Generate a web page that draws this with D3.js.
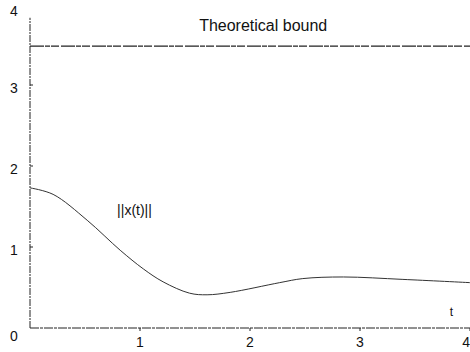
<!DOCTYPE html>
<html>
<head>
<meta charset="utf-8">
<script src="https://cdn.jsdelivr.net/npm/d3@7"></script>
<style>
  body { margin: 0; background: #fff; }
  svg { display: block; }
  text { font-family: "Liberation Sans", Arial, sans-serif; fill: #111; }
</style>
</head>
<body>
<figure id="chart" style="margin:0"></figure>
<script>
// values
const tValues = [0, 0.21, 0.52, 0.82, 1.03, 1.21, 1.45, 1.61, 1.82, 2.27, 2.48, 2.85, 3.39, 4.0];
const normValues = [1.73, 1.65, 1.33, 0.96, 0.73, 0.57, 0.43, 0.41, 0.44, 0.56, 0.61, 0.63, 0.60, 0.56];
const boundValue = 3.48;
const xTicks = [1, 2, 3, 4];
const yTicks = [0, 1, 2, 3, 4];

const width = 470, height = 352;
const margin = { top: 4, right: 0, bottom: 24, left: 30 };

const svg = d3.select('figure#chart')
  .append('svg')
  .attr('width', width)
  .attr('height', height);

const x = d3.scaleLinear().domain([0, 4]).range([margin.left, width - margin.right]);
const y = d3.scaleLinear().domain([0, 4]).range([height - margin.bottom, margin.top]);

// axes drawn as scanned-looking broken lines
svg.append('line')
  .attr('x1', x(0)).attr('x2', x(0))
  .attr('y1', y(0)).attr('y2', y(3.83))
  .attr('stroke', '#222').attr('stroke-width', 1)
  .attr('stroke-dasharray', '7,1,2,1');

svg.append('line')
  .attr('x1', x(0)).attr('x2', x(4))
  .attr('y1', y(0)).attr('y2', y(0))
  .attr('stroke', '#222').attr('stroke-width', 1)
  .attr('stroke-dasharray', '9,1,3,1');

// tick marks
svg.selectAll('.xtick')
  .data(xTicks)
  .enter()
  .append('line')
  .attr('class', 'xtick')
  .attr('x1', d => x(d)).attr('x2', d => x(d))
  .attr('y1', y(0)).attr('y2', y(0) + 3)
  .attr('stroke', '#222');

svg.selectAll('.ytick')
  .data(yTicks.filter(d => d > 0 && d < 4))
  .enter()
  .append('line')
  .attr('class', 'ytick')
  .attr('x1', x(0)).attr('x2', x(0) + 3)
  .attr('y1', d => y(d)).attr('y2', d => y(d))
  .attr('stroke', '#222');

// tick labels
svg.selectAll('.xlabel')
  .data(xTicks)
  .enter()
  .append('text')
  .attr('class', 'xlabel')
  .attr('x', d => x(d))
  .attr('y', y(0) + 19)
  .attr('text-anchor', d => d === 4 ? 'end' : 'middle')
  .style('font-size', '14px')
  .text(d => d);

svg.selectAll('.ylabel')
  .data(yTicks)
  .enter()
  .append('text')
  .attr('class', 'ylabel')
  .attr('x', 14)
  .attr('y', d => y(d) + (d === 0 ? 13 : d === 4 ? 12 : 8))
  .attr('text-anchor', 'middle')
  .style('font-size', '14px')
  .text(d => d);

// theoretical bound
svg.append('line')
  .attr('x1', x(0)).attr('x2', x(4))
  .attr('y1', y(boundValue)).attr('y2', y(boundValue))
  .attr('stroke', '#222').attr('stroke-width', 1.2)
  .attr('stroke-dasharray', '14,1,5,1,8,2');

svg.append('text')
  .attr('x', x(2.12))
  .attr('y', y(boundValue) - 15)
  .attr('text-anchor', 'middle')
  .style('font-size', '16px')
  .text('Theoretical bound');

// ||x(t)|| curve
const line = d3.line()
  .x((d, i) => x(tValues[i]))
  .y(d => y(d))
  .curve(d3.curveCatmullRom.alpha(0.5));

svg.append('path')
  .datum(normValues)
  .attr('d', line)
  .attr('fill', 'none')
  .attr('stroke', '#333')
  .attr('stroke-width', 1);

svg.append('text')
  .attr('x', x(0.95))
  .attr('y', y(1.4))
  .attr('text-anchor', 'middle')
  .style('font-size', '14px')
  .text('||x(t)||');

svg.append('text')
  .attr('x', x(3.83))
  .attr('y', y(0) - 12)
  .attr('text-anchor', 'middle')
  .style('font-size', '12px')
  .text('t');
</script>
</body>
</html>
